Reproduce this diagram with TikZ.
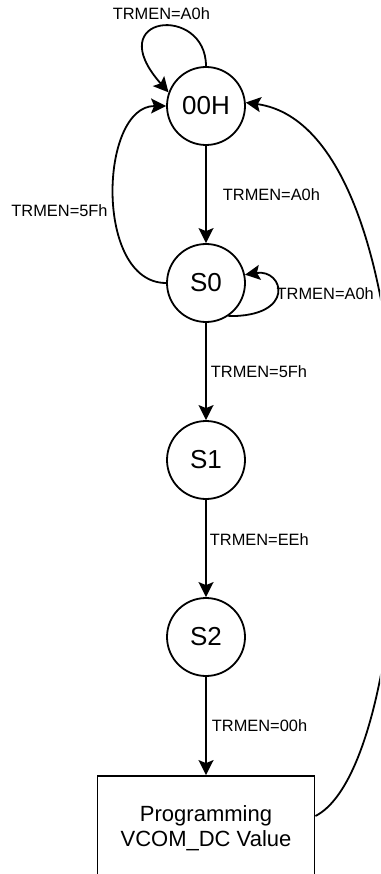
\documentclass[tikz,border=0pt]{standalone}
\usepackage{fontspec}
\setmainfont{Liberation Sans}
\usetikzlibrary{arrows.meta}

\begin{document}
\begin{tikzpicture}
 [x=1pt,y=1pt,line width=1.8pt,
   >={Stealth[length=15pt,width=15pt,inset=3pt]},
   level distance=177pt,
   state/.style={draw,circle,minimum size=78pt,inner sep=0pt,font=\fontsize{26}{30}\selectfont},
   progbox/.style={draw,rectangle,minimum width=217pt,minimum height=104pt,align=center,font=\fontsize{22}{25}\selectfont},
   trlabel/.style={font=\fontsize{16.4}{19}\selectfont,inner sep=3pt},
   edge from parent/.style={draw,->},
   level 4/.style={level distance=191pt}]
  \useasboundingbox (0,0) rectangle (380,-874);
  \clip (0,0) rectangle (380,-874);
  \node[state] (oo) at (206,-106) {00H}
    child {node[state] (s0) {S0}
      child {node[state] (s1) {S1}
        child {node[state] (s2) {S2}
          child {node[progbox] (prog) {Programming\\VCOM\_DC Value}
            edge from parent node[trlabel,right,xshift=2pt] (t4) {TRMEN=00h}}
          edge from parent node[trlabel,right,yshift=9pt] (t3) {TRMEN=EEh}}
        edge from parent node[trlabel,right,xshift=1pt] (t2) {TRMEN=5Fh}}
      edge from parent node[trlabel,right,xshift=13pt] (t1) {TRMEN=A0h}};
  % loops and way back
  \draw[->] (oo.north) .. controls +(0,62) and +(-69,78) .. (oo.160)
    node[trlabel,pos=0.5,above,yshift=3pt] (l1) {TRMEN=A0h};
  \draw[->] (s0.west) .. controls +(-72,0) and +(-67,0) .. (oo.west)
    node[trlabel,pos=0.44,left,xshift=-3pt] (l2) {TRMEN=5Fh};
  \draw[->] (s0.-56) .. controls +(68,-1) and +(39,6) .. (s0.12)
    node[trlabel,pos=0.5,right,xshift=-4pt] (l3) {TRMEN=A0h};
  \draw[->] ([yshift=12pt]prog.east) .. controls +(111,56) and +(195,-27) .. (oo.5);
\end{tikzpicture}
\end{document}
